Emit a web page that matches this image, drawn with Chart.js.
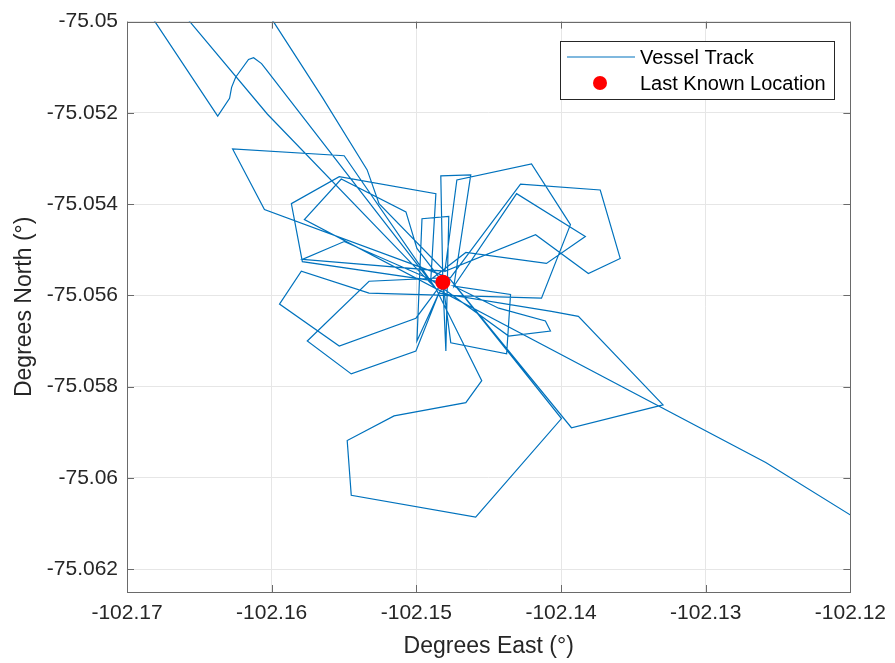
<!DOCTYPE html>
<html><head><meta charset="utf-8">
<script src="https://cdn.jsdelivr.net/npm/chart.js@4.4.0/dist/chart.umd.min.js"></script>
<style>html,body{margin:0;padding:0;background:#fff;}#wrap{width:895px;height:663px;}</style>
</head><body><div id="wrap"><canvas id="c" width="895" height="663"></canvas></div>
<script>
// Vessel track (degrees East / degrees North)
const trackX = [
 -102.17117,-102.16807,-102.16373,-102.16291,-102.16277,-102.16249,-102.16160,-102.16125,-102.16070,-102.16043,
 -102.14865,
 -102.14548,-102.14658,-102.15154,-102.15478,-102.15450,-102.14590,-102.13997,-102.14776,
 -102.13928,-102.13295,-102.13880,-102.14066,-102.14844,
 -102.14280,-102.13729,-102.13591,-102.13811,-102.14176,-102.14803,
 -102.14720,-102.14204,-102.13935,-102.14135,-102.15327,-102.15795,-102.15946,-102.15533,-102.15003,-102.14817,
 -102.14831,-102.14624,-102.14741,
 -102.14307,-102.13832,-102.14101,-102.14658,-102.14900,
 -102.14865,-102.15533,-102.15864,-102.15788,-102.14817,
 -102.14996,-102.15072,-102.15519,-102.15774,-102.14865,
 -102.15499,-102.16270,-102.16050,-102.14776,
 -102.15327,-102.15754,-102.15450,-102.15003,-102.14844,
 -102.14996,-102.14961,-102.14776,-102.14796,-102.14817,
 -102.14762,-102.14376,-102.14349,-102.14741,
 -102.14431,-102.14108,-102.14073,-102.14362,-102.14900,
 -102.15499,-102.15788,-102.14803,
 -102.15258,-102.15340,-102.15650,-102.15988,-102.16291,-102.16966,-102.16566,-102.16029,-102.14865,
 -102.12585,-102.11676
];
const trackY = [
 -75.04871,-75.05000,-75.05207,-75.05168,-75.05144,-75.05122,-75.05083,-75.05079,-75.05092,-75.05103,
 -75.05585,
 -75.05787,-75.05835,-75.05864,-75.05918,-75.06038,-75.06086,-75.05870,-75.05561,
 -75.05890,-75.05840,-75.05646,-75.05635,-75.05595,
 -75.05356,-75.05369,-75.05519,-75.05552,-75.05467,-75.05547,
 -75.05347,-75.05312,-75.05445,-75.05606,-75.05595,-75.05547,-75.05619,-75.05711,-75.05650,-75.05571,
 -75.05338,-75.05336,-75.05580,
 -75.05377,-75.05471,-75.05530,-75.05506,-75.05565,
 -75.05377,-75.05340,-75.05399,-75.05526,-75.05571,
 -75.05497,-75.05417,-75.05345,-75.05434,-75.05585,
 -75.05294,-75.05279,-75.05412,-75.05561,
 -75.05569,-75.05700,-75.05772,-75.05722,-75.05595,
 -75.05700,-75.05432,-75.05427,-75.05722,-75.05571,
 -75.05704,-75.05728,-75.05598,-75.05580,
 -75.05628,-75.05656,-75.05678,-75.05689,-75.05565,
 -75.05482,-75.05521,-75.05547,
 -75.05399,-75.05325,-75.05166,-75.05000,-75.04849,-75.04849,-75.05000,-75.05203,-75.05585,
 -75.05966,-75.06145
];
const lastX = [-102.14817];
const lastY = [-75.05571];
const seriesNames = ['Vessel Track', 'Last Known Location'];
const xTicks = [-102.17,-102.16,-102.15,-102.14,-102.13,-102.12];
const xTickLabels = ['-102.17','-102.16','-102.15','-102.14','-102.13','-102.12'];
const yTicks = [-75.05,-75.052,-75.054,-75.056,-75.058,-75.06,-75.062];
const yTickLabels = ['-75.05','-75.052','-75.054','-75.056','-75.058','-75.06','-75.062'];
const xTitle = 'Degrees East (°)';
const yTitle = 'Degrees North (°)';

const FONT = '"Liberation Sans", Arial, Helvetica, sans-serif';
const TRACK_COLOR = '#0072BD';
const DOT_COLOR = '#FF0000';
const AXIS_COLOR = '#6a6a6a';

const trackPts = trackX.map((x, i) => ({x: x, y: trackY[i]}));
const lastPts = lastX.map((x, i) => ({x: x, y: lastY[i]}));

const boxPlugin = {
  id: 'boxPlugin',
  afterDraw(chart) {
    const ctx = chart.ctx, a = chart.chartArea;
    const xs = chart.scales.x, ys = chart.scales.y;
    ctx.save();
    ctx.strokeStyle = AXIS_COLOR;
    ctx.lineWidth = 1;
    ctx.strokeRect(Math.round(a.left) + 0.5, Math.round(a.top) + 0.5,
                   Math.round(a.right - a.left), Math.round(a.bottom - a.top));
    const L = 7;
    ctx.beginPath();
    xTicks.forEach(v => {
      const p = Math.round(xs.getPixelForValue(v)) + 0.5;
      ctx.moveTo(p, a.bottom); ctx.lineTo(p, a.bottom - L);
      ctx.moveTo(p, a.top); ctx.lineTo(p, a.top + L);
    });
    yTicks.forEach(v => {
      const p = Math.round(ys.getPixelForValue(v)) + 0.5;
      ctx.moveTo(a.left, p); ctx.lineTo(a.left + L, p);
      ctx.moveTo(a.right, p); ctx.lineTo(a.right - L, p);
    });
    ctx.stroke();

    // legend box (inside plot, top-right)
    const bw = 274, bh = 58;
    const bx = Math.round(a.right - 16 - bw), by = Math.round(a.top + 19);
    ctx.fillStyle = '#ffffff';
    ctx.fillRect(bx, by, bw, bh);
    ctx.strokeStyle = '#262626';
    ctx.strokeRect(bx + 0.5, by + 0.5, bw, bh);
    const r1 = by + 16, r2 = by + 42;
    ctx.strokeStyle = TRACK_COLOR;
    ctx.lineWidth = 1.2;
    ctx.beginPath(); ctx.moveTo(bx + 7, r1); ctx.lineTo(bx + 75, r1); ctx.stroke();
    ctx.fillStyle = DOT_COLOR;
    ctx.beginPath(); ctx.arc(bx + 40, r2, 7, 0, Math.PI * 2); ctx.fill();
    ctx.fillStyle = '#000000';
    ctx.font = '20px ' + FONT;
    ctx.textBaseline = 'middle';
    ctx.textAlign = 'left';
    ctx.fillText(seriesNames[0], bx + 80, r1 + 1);
    ctx.fillText(seriesNames[1], bx + 80, r2 + 1);
    ctx.restore();
  }
};

new Chart(document.getElementById('c'), {
  type: 'scatter',
  data: {
    datasets: [
      { label: seriesNames[0], data: trackPts, showLine: true, borderColor: TRACK_COLOR,
        borderWidth: 1.2, pointRadius: 0, fill: false, tension: 0, order: 2 },
      { label: seriesNames[1], data: lastPts, showLine: false, pointRadius: 7.5,
        pointBackgroundColor: DOT_COLOR, pointBorderColor: DOT_COLOR, borderWidth: 0, order: 1 }
    ]
  },
  options: {
    responsive: false,
    animation: false,
    devicePixelRatio: 1,
    layout: { padding: { top: 19, right: 42, left: 0, bottom: 0 } },
    plugins: { legend: { display: false }, tooltip: { enabled: false } },
    scales: {
      x: {
        type: 'linear', min: -102.17, max: -102.12,
        afterBuildTicks: s => { s.ticks = xTicks.map(v => ({value: v})); },
        afterFit: s => { s.height = 71; },
        ticks: { callback: (v, i) => xTickLabels[i], color: '#262626', padding: 9,
                 font: { family: FONT, size: 21 }, maxRotation: 0, autoSkip: false },
        grid: { color: '#e6e6e6', lineWidth: 1, drawTicks: false },
        border: { display: false },
        title: { display: true, text: xTitle, color: '#262626',
                 font: { family: FONT, size: 23 }, padding: { top: 0, bottom: 3 } }
      },
      y: {
        type: 'linear', min: -75.0625, max: -75.05,
        afterBuildTicks: s => { s.ticks = yTicks.map(v => ({value: v})); },
        afterFit: s => { s.width = 127; },
        ticks: { callback: (v, i) => yTickLabels[i], color: '#262626', padding: 9,
                 font: { family: FONT, size: 21 }, autoSkip: false },
        grid: { color: '#e6e6e6', lineWidth: 1, drawTicks: false },
        border: { display: false },
        title: { display: true, text: yTitle, color: '#262626',
                 font: { family: FONT, size: 23 }, padding: { top: 11, bottom: 0 } }
      }
    }
  },
  plugins: [boxPlugin]
});
</script></body></html>
